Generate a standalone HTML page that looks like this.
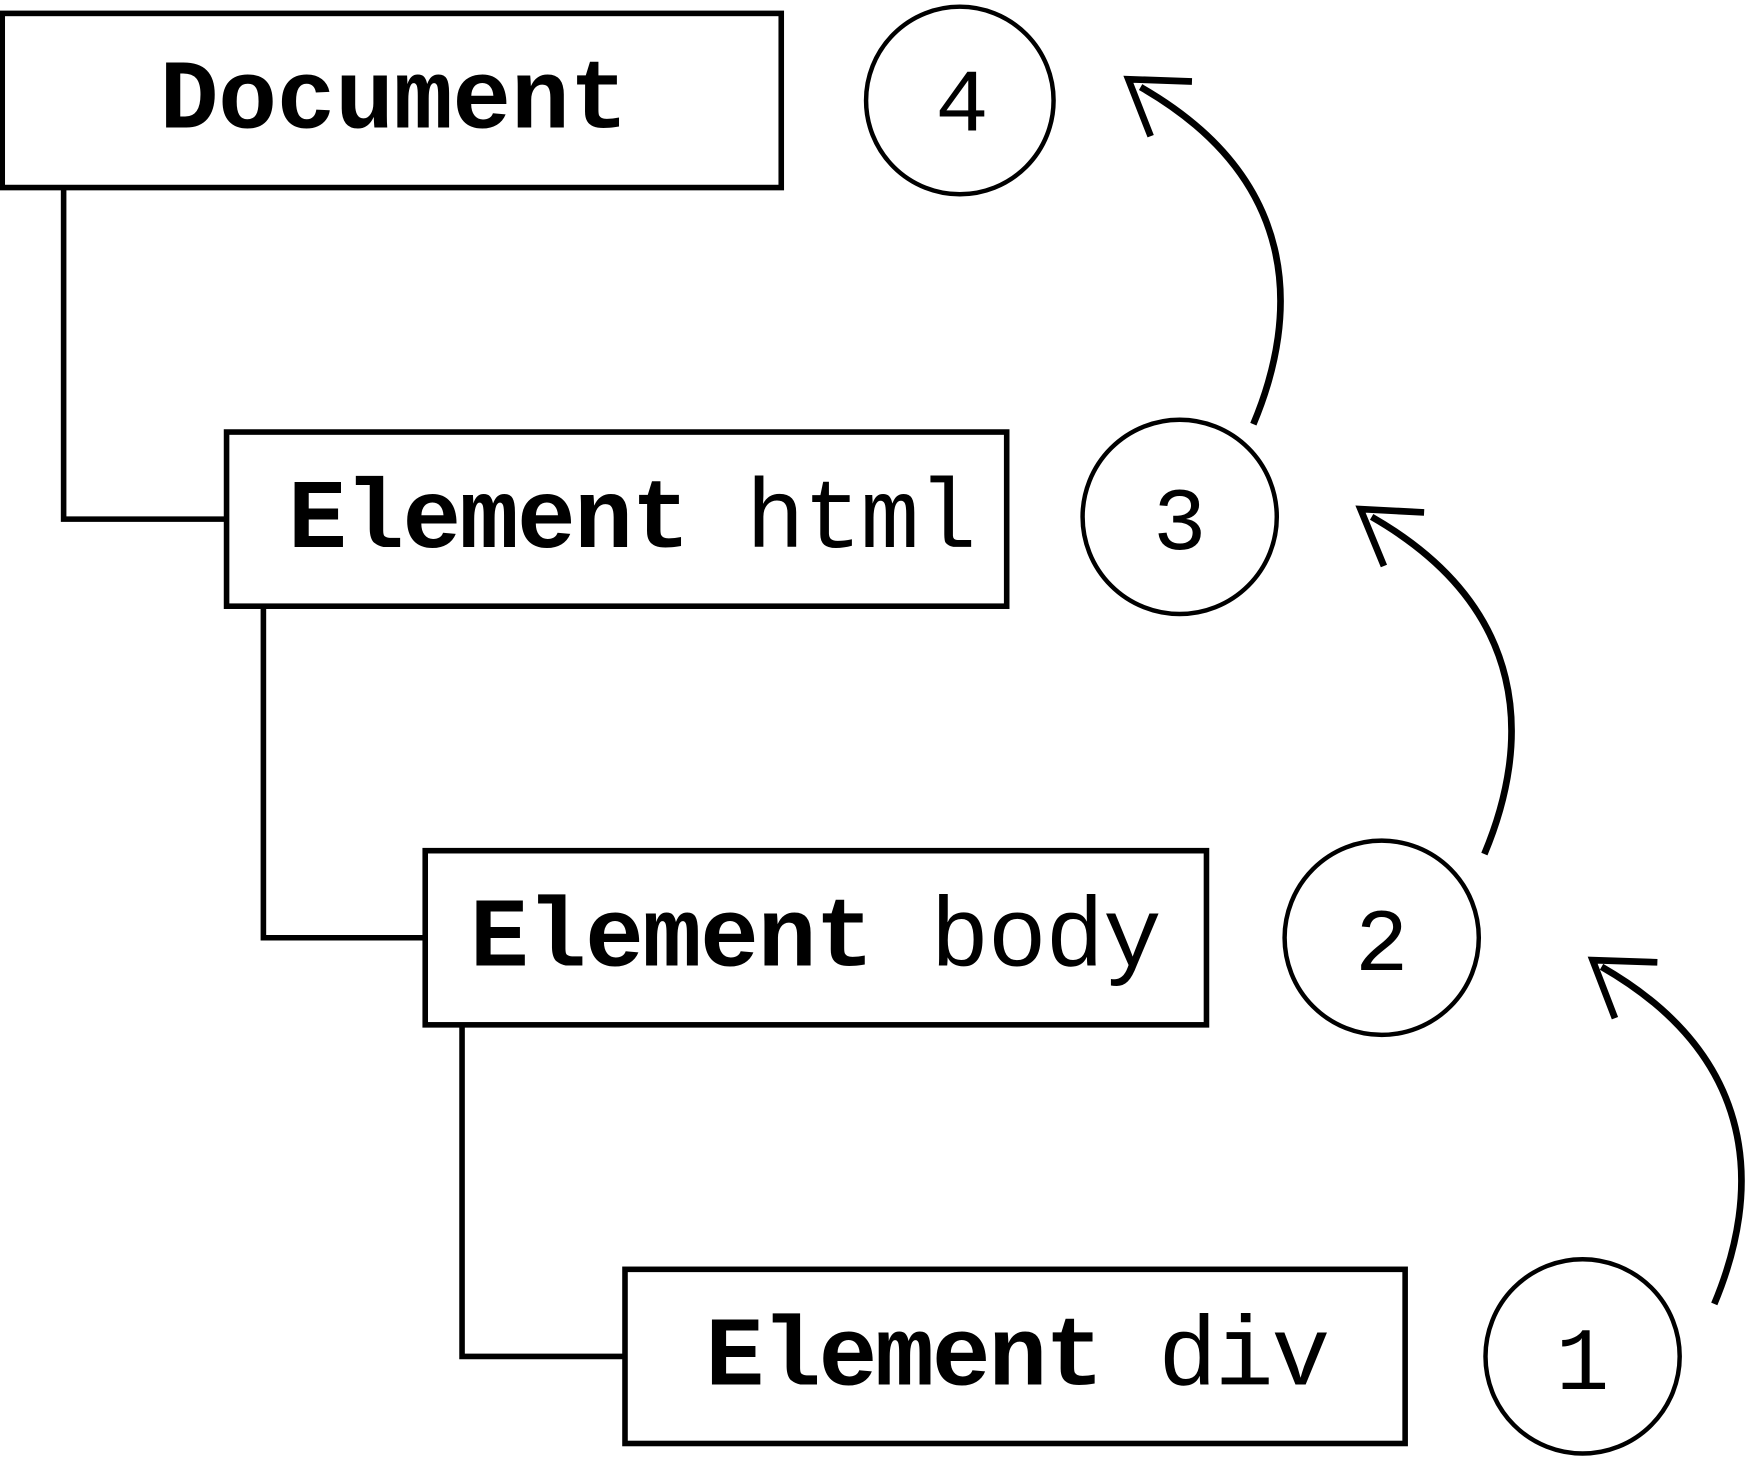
<!DOCTYPE html>
<html><head><style>html,body{margin:0;padding:0;background:#fff}svg{display:block}</style></head>
<body>
<svg width="1750" height="1458" viewBox="0 0 1568 1306" preserveAspectRatio="none" xmlns="http://www.w3.org/2000/svg">
<g fill="none" stroke="#000" stroke-width="5">
<rect x="2" y="12" width="698" height="156"/>
<rect x="203" y="387" width="699" height="156"/>
<rect x="381" y="762" width="700" height="156"/>
<rect x="560" y="1137" width="699" height="156"/>
<polyline points="57,168 57,465 203,465"/>
<polyline points="236,543 236,840 381,840"/>
<polyline points="414,918 414,1215 560,1215"/>
<circle cx="860" cy="90" r="84" stroke-width="4"/>
<circle cx="1057" cy="463" r="87" stroke-width="4"/>
<circle cx="1238" cy="840" r="87" stroke-width="4"/>
<circle cx="1418" cy="1215" r="87" stroke-width="4"/>
<g stroke-width="6">
<path d="M1123,380 C1165,280 1165,160 1022,78"/>
<polyline points="1031,122 1011,71 1068,73"/>
<path d="M1330,765 C1372,665 1372,545 1229,463"/>
<polyline points="1240,507 1219,456 1276,459"/>
<path d="M1536,1168 C1578,1068 1578,948 1435,866"/>
<polyline points="1447,912 1427,860 1485,862"/>
</g>
</g>
<g font-family="Liberation Mono, monospace" font-size="88" fill="#000">
<text x="143" y="114" font-weight="bold" textLength="420">Document</text>
<text x="258" y="490" textLength="617"><tspan font-weight="bold">Element</tspan> html</text>
<text x="421" y="865" textLength="620"><tspan font-weight="bold">Element</tspan> body</text>
<text x="632" y="1240" textLength="560"><tspan font-weight="bold">Element</tspan> div</text>
</g>
<g font-family="Liberation Mono, monospace" font-size="80" fill="#000" text-anchor="middle">
<text x="862" y="117">4</text>
<text x="1057" y="492">3</text>
<text x="1238" y="869">2</text>
<text x="1418" y="1244">1</text>
</g>
</svg>
</body></html>
